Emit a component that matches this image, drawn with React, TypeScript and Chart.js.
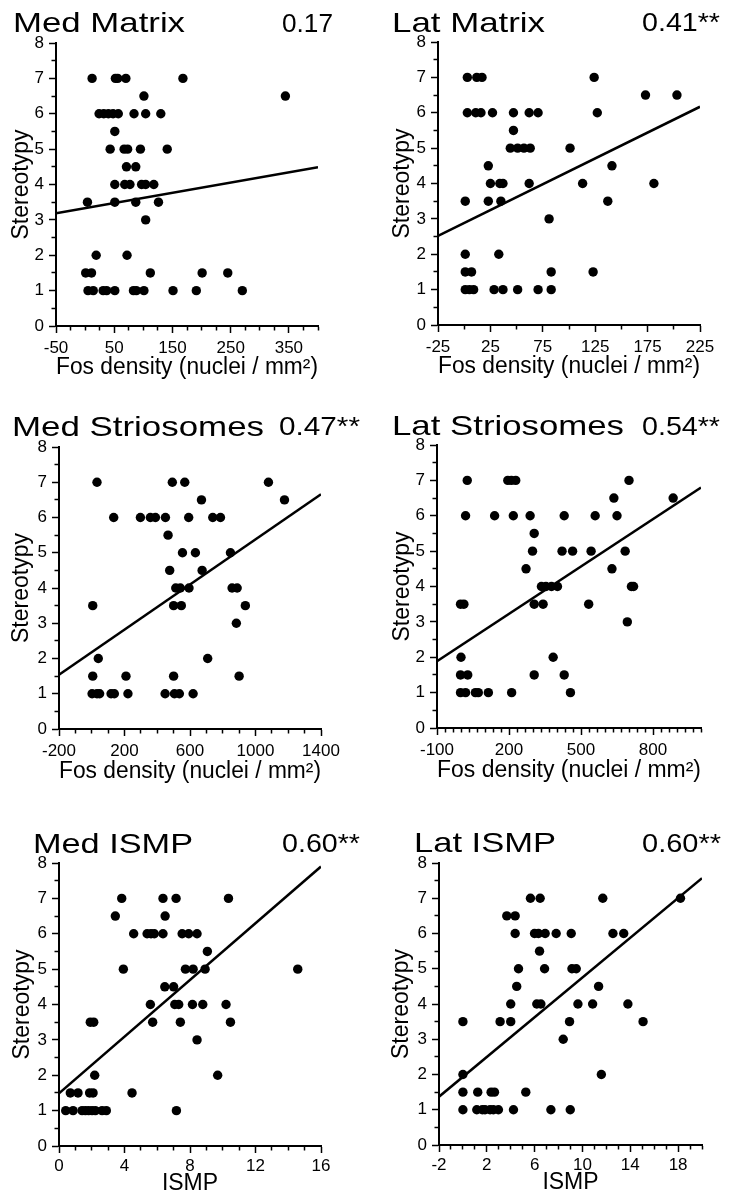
import React, { useEffect, useRef } from "react";
import { Chart, registerables } from "chart.js";

Chart.register(...registerables);

const FONT = "'Liberation Sans', Arial, Helvetica, sans-serif";

// ---------- DATA ----------
const yTickLabels = ["0", "1", "2", "3", "4", "5", "6", "7", "8"];

// Med Matrix
const medMatrixX = [12, 52, 56, 70, 168, 101, 344, 24, 32, 40, 48, 57, 84, 104, 130, 51, 43, 67, 73, 95, 141, 71, 87, 51, 68, 77, 97, 104, 118, 4, 51, 87, 126, 104, 19, 72, 1, 11, 112, 201, 245, 5, 14, 31, 37, 51, 83, 88, 101, 151, 191, 270];
const medMatrixY = [7, 7, 7, 7, 7, 6.5, 6.5, 6, 6, 6, 6, 6, 6, 6, 6, 5.5, 5, 5, 5, 5, 5, 4.5, 4.5, 4, 4, 4, 4, 4, 4, 3.5, 3.5, 3.5, 3.5, 3, 2, 2, 1.5, 1.5, 1.5, 1.5, 1.5, 1, 1, 1, 1, 1, 1, 1, 1, 1, 1, 1];
const medMatrixLineX = [-50, 400];
const medMatrixLineY = [3.19, 4.49];
const medMatrixXLabels = [-50, 50, 150, 250, 350];

// Lat Matrix
const latMatrixX = [3, 12, 17, 124, 173, 203, 3, 11, 16, 27, 47, 62, 70.5, 127, 47, 44, 51, 57, 63, 101, 23, 141, 25, 34, 37, 62, 113, 181, 1, 23, 35, 137, 81, 1, 33, 1, 7, 83, 123, 1, 5, 9, 28.5, 37, 51, 70.5, 83];
const latMatrixY = [7, 7, 7, 7, 6.5, 6.5, 6, 6, 6, 6, 6, 6, 6, 6, 5.5, 5, 5, 5, 5, 5, 4.5, 4.5, 4, 4, 4, 4, 4, 4, 3.5, 3.5, 3.5, 3.5, 3, 2, 2, 1.5, 1.5, 1.5, 1.5, 1, 1, 1, 1, 1, 1, 1, 1];
const latMatrixLineX = [-25, 225];
const latMatrixLineY = [2.52, 6.17];
const latMatrixXLabels = [-25, 25, 75, 125, 175, 225];

// Med Striosomes
const medStrioX = [32, 492, 568, 1079, 670, 1177, 134, 297, 358, 389, 450, 592, 739, 786, 466, 554, 633, 847, 476, 674, 513, 541, 594, 857, 888, 6, 500, 547, 938, 883, 40, 708, 6, 209, 500, 900, 2, 32, 48, 118, 138, 221, 448, 505, 535, 619];
const medStrioY = [7, 7, 7, 7, 6.5, 6.5, 6, 6, 6, 6, 6, 6, 6, 6, 5.5, 5, 5, 5, 4.5, 4.5, 4, 4, 4, 4, 4, 3.5, 3.5, 3.5, 3.5, 3, 2, 2, 1.5, 1.5, 1.5, 1.5, 1, 1, 1, 1, 1, 1, 1, 1, 1, 1];
const medStrioLineX = [-200, 1400];
const medStrioLineY = [1.54, 6.66];
const medStrioXLabels = [-200, 200, 600, 1000, 1400];

// Lat Striosomes
const latStrioX = [26, 195, 210, 228, 700, 637, 884, 19, 140, 218, 288, 430, 559, 650, 305, 298, 421, 465, 542, 684, 271, 629, 335, 354, 377, 402, 710, 719, -2, 12, 305, 342, 532, 693, 0, 384, -2, 28, 305, 430, -2, 19, 60, 72, 114, 211, 456];
const latStrioY = [7, 7, 7, 7, 7, 6.5, 6.5, 6, 6, 6, 6, 6, 6, 6, 5.5, 5, 5, 5, 5, 5, 4.5, 4.5, 4, 4, 4, 4, 4, 4, 3.5, 3.5, 3.5, 3.5, 3.5, 3, 2, 2, 1.5, 1.5, 1.5, 1.5, 1, 1, 1, 1, 1, 1, 1];
const latStrioLineX = [-100, 1000];
const latStrioLineY = [1.89, 6.8];
const latStrioXLabels = [-100, 200, 500, 800];

// Med ISMP
const medIsmpX = [3.83, 6.35, 7.15, 10.35, 3.44, 6.48, 4.56, 5.38, 5.62, 5.82, 6.35, 7.52, 7.92, 8.43, 9.06, 3.93, 7.72, 8.19, 8.92, 14.58, 6.46, 7.0, 5.58, 7.07, 7.31, 8.15, 8.78, 10.2, 1.91, 2.12, 5.72, 7.41, 10.47, 8.43, 2.18, 9.69, 0.69, 1.16, 1.87, 2.08, 4.46, 0.41, 0.86, 1.41, 1.61, 1.81, 2.02, 2.22, 2.63, 2.89, 7.17];
const medIsmpY = [7, 7, 7, 7, 6.5, 6.5, 6, 6, 6, 6, 6, 6, 6, 6, 5.5, 5, 5, 5, 5, 5, 4.5, 4.5, 4, 4, 4, 4, 4, 4, 3.5, 3.5, 3.5, 3.5, 3.5, 3, 2, 2, 1.5, 1.5, 1.5, 1.5, 1.5, 1, 1, 1, 1, 1, 1, 1, 1, 1, 1];
const medIsmpLineX = [0, 16];
const medIsmpLineY = [1.49, 7.9];
const medIsmpXLabels = [0, 4, 8, 12, 16];

// Lat ISMP
const latIsmpX = [5.65, 6.46, 11.7, 18.2, 3.67, 4.37, 4.37, 5.99, 6.32, 6.88, 7.8, 9.06, 12.55, 13.45, 6.41, 4.65, 6.83, 9.12, 9.48, 4.5, 11.35, 4.0, 6.18, 6.52, 9.62, 10.85, 13.8, 0, 3.11, 4.0, 8.92, 15.07, 8.39, 0, 11.58, 0, 1.24, 2.36, 2.64, 5.26, 0, 1.16, 1.63, 1.85, 2.27, 2.55, 2.97, 4.23, 7.36, 8.98];
const latIsmpY = [7, 7, 7, 7, 6.5, 6.5, 6, 6, 6, 6, 6, 6, 6, 6, 5.5, 5, 5, 5, 5, 4.5, 4.5, 4, 4, 4, 4, 4, 4, 3.5, 3.5, 3.5, 3.5, 3.5, 3, 2, 2, 1.5, 1.5, 1.5, 1.5, 1.5, 1, 1, 1, 1, 1, 1, 1, 1, 1, 1];
const latIsmpLineX = [-2, 20];
const latIsmpLineY = [1.37, 7.57];
const latIsmpXLabels = [-2, 2, 6, 10, 14, 18];

const FOS_TITLE = "Fos density (nuclei / mm\u00B2)";

// ---------- PANEL LAYOUT ----------
type Panel = {
  name: string;
  r: string;
  xs: number[];
  ys: number[];
  lineX: number[];
  lineY: number[];
  xMin: number;
  xMax: number;
  xStep: number;
  xLabels: number[];
  xTitle: string;
  col: number;
  row: number;
  area: { left: number; top: number; right: number; bottom: number };
  titleX: number;
  titleY: number;
  titleW: number;
  rRight: number;
  rY: number;
  rW: number;
  yTitleCenter: number;
  xTitleOffset: number;
  xTickPad: number;
};

const PANELS: Panel[] = [
  {
    name: "Med Matrix", r: "0.17", xs: medMatrixX, ys: medMatrixY, lineX: medMatrixLineX, lineY: medMatrixLineY,
    xMin: -50, xMax: 400, xStep: 25, xLabels: medMatrixXLabels, xTitle: FOS_TITLE, col: 0, row: 0,
    area: { left: 56, top: 43, right: 318, bottom: 326 },
    titleX: 13, titleY: 32, titleW: 172, rRight: 333, rY: 32, rW: 51, yTitleCenter: 22, xTitleOffset: 42, xTickPad: 5,
  },
  {
    name: "Lat Matrix", r: "0.41**", xs: latMatrixX, ys: latMatrixY, lineX: latMatrixLineX, lineY: latMatrixLineY,
    xMin: -25, xMax: 225, xStep: 25, xLabels: latMatrixXLabels, xTitle: FOS_TITLE, col: 1, row: 0,
    area: { left: 73, top: 42, right: 335, bottom: 325 },
    titleX: 27, titleY: 32, titleW: 153, rRight: 355, rY: 31, rW: 78, yTitleCenter: 37.5, xTitleOffset: 42, xTickPad: 5,
  },
  {
    name: "Med Striosomes", r: "0.47**", xs: medStrioX, ys: medStrioY, lineX: medStrioLineX, lineY: medStrioLineY,
    xMin: -200, xMax: 1400, xStep: 100, xLabels: medStrioXLabels, xTitle: FOS_TITLE, col: 0, row: 1,
    area: { left: 59, top: 47, right: 321, bottom: 329 },
    titleX: 12, titleY: 36, titleW: 252, rRight: 360, rY: 35, rW: 81, yTitleCenter: 22, xTitleOffset: 42.5, xTickPad: 5,
  },
  {
    name: "Lat Striosomes", r: "0.54**", xs: latStrioX, ys: latStrioY, lineX: latStrioLineX, lineY: latStrioLineY,
    xMin: -100, xMax: 1000, xStep: 100 / 3, xLabels: latStrioXLabels, xTitle: FOS_TITLE, col: 1, row: 1,
    area: { left: 72, top: 45, right: 336, bottom: 328 },
    titleX: 27, titleY: 35, titleW: 232, rRight: 355, rY: 35, rW: 78, yTitleCenter: 37.5, xTitleOffset: 42.5, xTickPad: 5,
  },
  {
    name: "Med ISMP", r: "0.60**", xs: medIsmpX, ys: medIsmpY, lineX: medIsmpLineX, lineY: medIsmpLineY,
    xMin: 0, xMax: 16, xStep: 1, xLabels: medIsmpXLabels, xTitle: "ISMP", col: 0, row: 2,
    area: { left: 59, top: 63, right: 321, bottom: 346 },
    titleX: 33, titleY: 53, titleW: 160, rRight: 360, rY: 52, rW: 78, yTitleCenter: 22.3, xTitleOffset: 37.5, xTickPad: 3,
  },
  {
    name: "Lat ISMP", r: "0.60**", xs: latIsmpX, ys: latIsmpY, lineX: latIsmpLineX, lineY: latIsmpLineY,
    xMin: -2, xMax: 20, xStep: 1, xLabels: latIsmpXLabels, xTitle: "ISMP", col: 1, row: 2,
    area: { left: 74, top: 63, right: 337, bottom: 345 },
    titleX: 49, titleY: 52, titleW: 142, rRight: 356, rY: 52, rW: 79, yTitleCenter: 36.5, xTitleOffset: 37.5, xTickPad: 3,
  },
];

const W = 365;
const H = 400;
const X_AXIS_H = 54;
const TICK_LEN = 7;

const near = (a: number, b: number) => Math.abs(a - b) < 1e-6;

function ScatterPanel({ p }: { p: Panel }) {
  const ref = useRef<HTMLCanvasElement>(null);

  useEffect(() => {
    const canvas = ref.current;
    if (!canvas) return;

    const titlePlugin = {
      id: "panelTitle",
      afterDraw(chart: any) {
        const ctx = chart.ctx as CanvasRenderingContext2D;
        ctx.save();
        ctx.fillStyle = "#000";
        ctx.textBaseline = "alphabetic";
        ctx.font = `28px ${FONT}`;
        ctx.textAlign = "left";
        const tw = ctx.measureText(p.name).width;
        ctx.translate(p.titleX, p.titleY);
        ctx.scale(p.titleW / tw, 1);
        ctx.fillText(p.name, 0, 0);
        ctx.restore();

        ctx.save();
        ctx.fillStyle = "#000";
        ctx.textBaseline = "alphabetic";
        ctx.font = `26px ${FONT}`;
        ctx.textAlign = "right";
        const rw = ctx.measureText(p.r).width;
        ctx.translate(p.rRight, p.rY);
        ctx.scale(p.rW / rw, 1);
        ctx.fillText(p.r, 0, 0);
        ctx.restore();
      },
    };

    const xTickCount = Math.round((p.xMax - p.xMin) / p.xStep);

    const chart = new Chart(canvas, {
      type: "scatter",
      data: {
        datasets: [
          {
            label: p.name,
            data: p.xs.map((x, i) => ({ x, y: p.ys[i] })),
            pointRadius: 4.7,
            pointHoverRadius: 4.7,
            pointBackgroundColor: "#000",
            pointBorderWidth: 0,
            showLine: false,
          },
          {
            type: "line",
            label: "fit",
            data: p.lineX.map((x, i) => ({ x, y: p.lineY[i] })),
            borderColor: "#000",
            borderWidth: 2.5,
            pointRadius: 0,
            fill: false,
            tension: 0,
          } as any,
        ],
      },
      options: {
        responsive: false,
        animation: false,
        maintainAspectRatio: false,
        events: [],
        layout: {
          padding: {
            left: 0,
            top: p.area.top,
            right: W - p.area.right,
            bottom: H - p.area.bottom - X_AXIS_H,
          },
        },
        plugins: {
          legend: { display: false },
          tooltip: { enabled: false },
          title: { display: false },
        },
        scales: {
          x: {
            type: "linear",
            position: "bottom",
            min: p.xMin,
            max: p.xMax,
            afterBuildTicks: (scale: any) => {
              const t = [];
              for (let k = 0; k <= xTickCount; k++) t.push({ value: p.xMin + k * p.xStep });
              scale.ticks = t;
            },
            afterFit: (scale: any) => {
              scale.height = X_AXIS_H;
            },
            border: { display: true, color: "#000", width: 2 },
            grid: {
              drawOnChartArea: false,
              drawTicks: true,
              tickLength: TICK_LEN,
              tickColor: "#000",
              tickWidth: 1.5,
              tickBorderDash: (c: any) =>
                c.tick && p.xLabels.some((l) => near(l, c.tick.value)) ? [] : [3.5, 100],
              tickBorderDashOffset: 0,
            },
            ticks: {
              autoSkip: false,
              maxRotation: 0,
              minRotation: 0,
              padding: p.xTickPad,
              color: "#000",
              font: { family: FONT, size: 17 },
              callback: (v: any) => {
                const l = p.xLabels.find((q) => near(q, Number(v)));
                return l === undefined ? "" : String(l);
              },
            },
            title: {
              display: true,
              text: p.xTitle,
              color: "#000",
              font: { family: FONT, size: 23, lineHeight: 1 },
              padding: { top: 0, bottom: X_AXIS_H - 11.5 - p.xTitleOffset },
            },
          },
          y: {
            type: "linear",
            position: "left",
            min: 0,
            max: 8,
            afterFit: (scale: any) => {
              scale.width = p.area.left;
            },
            border: { display: true, color: "#000", width: 2 },
            grid: {
              drawOnChartArea: false,
              drawTicks: true,
              tickLength: TICK_LEN,
              tickColor: "#000",
              tickWidth: 1.5,
              tickBorderDash: (c: any) =>
                c.tick && near(c.tick.value, Math.round(c.tick.value)) ? [] : [3.5, 100],
              tickBorderDashOffset: (c: any) =>
                c.tick && near(c.tick.value, Math.round(c.tick.value)) ? 0 : 101,
            },
            ticks: {
              stepSize: 0.5,
              autoSkip: false,
              padding: 5,
              color: "#000",
              font: { family: FONT, size: 17 },
              callback: (v: any) => {
                const n = Number(v);
                return near(n, Math.round(n)) ? yTickLabels[Math.round(n)] : "";
              },
            },
            title: {
              display: true,
              text: "Stereotypy",
              color: "#000",
              font: { family: FONT, size: 23, lineHeight: 1 },
              padding: { top: p.yTitleCenter - 11.5, bottom: 0 },
            },
          },
        },
      } as any,
      plugins: [titlePlugin],
    });

    return () => chart.destroy();
  }, [p]);

  return (
    <div style={{ position: "absolute", left: p.col * W, top: p.row * H, width: W, height: H }}>
      <canvas ref={ref} width={W} height={H} style={{ display: "block", width: W, height: H }} />
    </div>
  );
}

export default function App() {
  return (
    <div style={{ position: "absolute", left: 0, top: 0, width: 730, height: 1200, background: "#fff", overflow: "hidden" }}>
      {PANELS.map((p) => (
        <ScatterPanel key={p.name} p={p} />
      ))}
    </div>
  );
}
